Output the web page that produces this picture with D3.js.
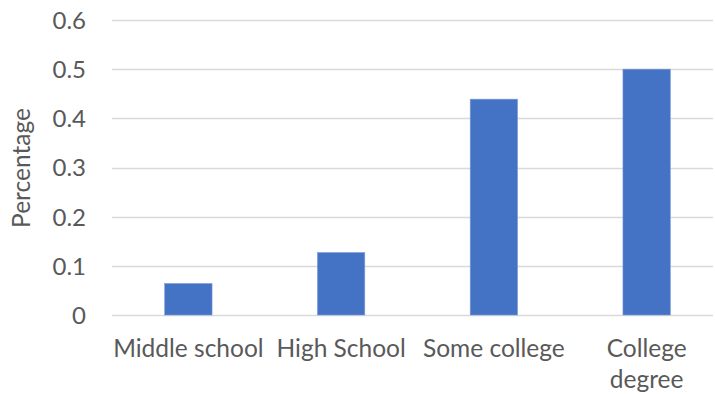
<!DOCTYPE html>
<html>
<head>
<meta charset="utf-8">
<script src="https://cdn.jsdelivr.net/npm/d3@7"></script>
<style>
  html, body { margin: 0; padding: 0; background: #fff; }
  svg { display: block; }
  text { font-family: Lato, "Open Sans", sans-serif; fill: #595959; }
</style>
</head>
<body>
<svg id="chart" width="715" height="394"></svg>
<script>
const categories = ["Middle school", "High School", "Some college", "College degree"];
const values = [0.064, 0.127, 0.439, 0.5];
const yTicks = [0, 0.1, 0.2, 0.3, 0.4, 0.5, 0.6];
const yTickLabels = ["0", "0.1", "0.2", "0.3", "0.4", "0.5", "0.6"];
const yTitle = "Percentage";

(function () {
const svg = d3.select("#chart");
const pLeft = 112, pRight = 723, pTop = 20, pBottom = 315;

const x = d3.scaleBand().domain(categories).range([pLeft, pRight])
  .paddingInner(0.69).paddingOuter(0.345);
const y = d3.scaleLinear().domain([0, 0.6]).range([pBottom, pTop]);

// gridlines
svg.append("g").selectAll("line").data(yTicks).join("line")
  .attr("x1", pLeft).attr("x2", 713)
  .attr("y1", d => Math.round(y(d)) + 0.5).attr("y2", d => Math.round(y(d)) + 0.5)
  .attr("stroke", "#d9d9d9").attr("stroke-width", 1.3);

// y axis labels
const yAxis = d3.axisLeft(y).tickValues(yTicks).tickFormat((d, i) => yTickLabels[i]).tickSize(0).tickPadding(0);
const ya = svg.append("g").attr("transform", `translate(86,0)`).call(yAxis);
ya.select(".domain").remove();
ya.selectAll("text").attr("font-size", 24).attr("fill", "#595959")
  .attr("font-family", "Lato, sans-serif").attr("dy", "0.35em");

// bars
svg.append("g").selectAll("rect").data(values).join("rect")
  .attr("x", (d, i) => x(categories[i]))
  .attr("width", x.bandwidth())
  .attr("y", d => y(d))
  .attr("height", d => y(0) - y(d))
  .attr("fill", "#4472c4")
  .attr("stroke", "#7b9bd6").attr("stroke-width", 0.6);

// x labels
const xl = svg.append("g");
categories.forEach(c => {
  const cx = x(c) + x.bandwidth() / 2;
  const lines = c === "College degree" ? ["College", "degree"] : [c];
  lines.forEach((t, j) => {
    xl.append("text").attr("x", cx).attr("y", 357 + j * 31)
      .attr("text-anchor", "middle").attr("font-size", 24.5).text(t);
  });
});

// y title
svg.append("text").attr("transform", `translate(30,168) rotate(-90)`)
  .attr("text-anchor", "middle").attr("font-size", 24.5).text(yTitle);
})();
</script>
</body>
</html>
